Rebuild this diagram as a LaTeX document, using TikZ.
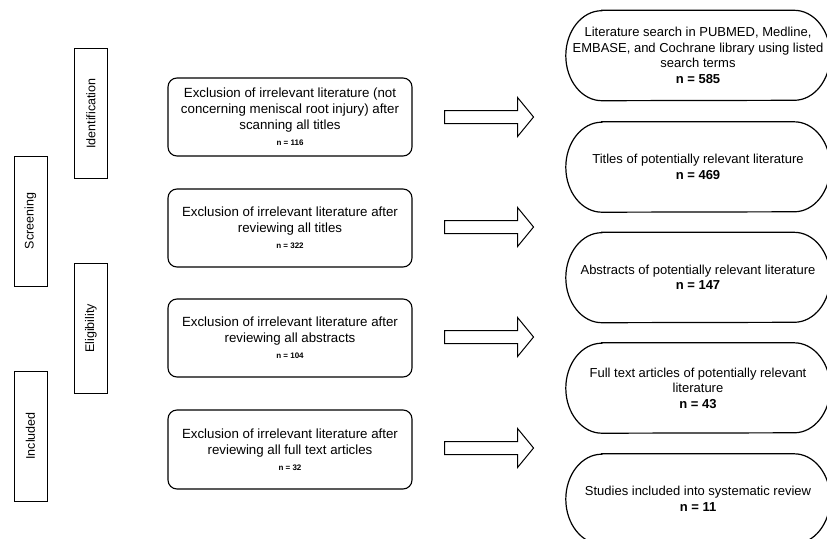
\documentclass[tikz,border=0pt]{standalone}
\usepackage{fontspec}
\setmainfont{Liberation Sans}
\begin{document}
\begin{tikzpicture}[x=1pt,y=-1pt,
  lbl/.style={draw, line width=0.9pt, rotate=90, minimum width=130pt, minimum height=33pt, inner sep=0pt, font=\fontsize{12.5}{14}\selectfont},
  excl/.style={draw, line width=1.1pt, rounded corners=9pt, minimum width=244pt, minimum height=78pt, align=center, inner sep=0pt, font=\fontsize{13.3}{16}\selectfont},
  stad/.style={minimum width=264pt, minimum height=90pt, align=center, inner sep=0pt, font=\fontsize{13}{15.5}\selectfont},
  blk/.style={draw, line width=1pt, fill=white, line join=miter},
  stadline/.style={line width=1.2pt}
]
\useasboundingbox (0,0) rectangle (827,538);
\clip (0,0) rectangle (827,538);

% side labels
\node[lbl] (scr) at (30.5,221) {Screening};
\node[lbl] (inc) at (30.5,436) {Included};
\node[lbl] (idf) at (91,113.5) {Identification};
\node[lbl] (eli) at (91,328.5) {Eligibility};

% exclusion boxes
\node[excl] (x1) at (290,117) {Exclusion of irrelevant literature (not\\concerning meniscal root injury) after\\scanning all titles\\{\fontsize{8}{10}\selectfont\bfseries n = 116}};
\node[excl] (x2) at (290,228) {Exclusion of irrelevant literature after\\reviewing all titles\\{\fontsize{8}{10}\selectfont\bfseries n = 322}};
\node[excl] (x3) at (290,338) {Exclusion of irrelevant literature after\\reviewing all abstracts\\{\fontsize{8}{10}\selectfont\bfseries n = 104}};
\node[excl, minimum height=79pt] (x4) at (290,449.5) {Exclusion of irrelevant literature after\\reviewing all full text articles\\{\fontsize{8}{10}\selectfont\bfseries n = 32}};

% stadiums
\node[stad] (s1) at (698,55.5) {Literature search in PUBMED, Medline,\\EMBASE, and Cochrane library using listed\\search terms\\\textbf{n = 585}};
\node[stad] (s2) at (698,167) {Titles of potentially relevant literature\\\textbf{n = 469}};
\node[stad] (s3) at (698,277.5) {Abstracts of potentially relevant literature\\\textbf{n = 147}};
\node[stad] (s4) at (698,388) {Full text articles of potentially relevant\\literature\\\textbf{n = 43}};
\node[stad] (s5) at (698,499) {Studies included into systematic review\\\textbf{n = 11}};

\foreach \s in {s1,s2,s3,s4,s5}{
  \draw[stadline] ([xshift=36pt]\s.north west) -- ([xshift=-36pt]\s.north east)
    arc[start angle=90, end angle=-90, x radius=36pt, y radius=45pt]
    -- ([xshift=36pt]\s.south west)
    arc[start angle=270, end angle=90, x radius=36pt, y radius=45pt] -- cycle;
}

% block arrows
\coordinate (a1) at ([xshift=32pt]x1.east);
\coordinate (a2) at ([xshift=32pt,yshift=1pt]x2.east);
\coordinate (a3) at ([xshift=32pt,yshift=1pt]x3.east);
\coordinate (a4) at ([xshift=32pt,yshift=1.5pt]x4.east);
\foreach \a in {a1,a2,a3,a4}{
  \draw[blk] (\a) ++(0,-6.5) -- ++(73,0) -- ++(0,-13) -- ++(16,19.5) -- ++(-16,19.5) -- ++(0,-13) -- ++(-73,0) -- cycle;
}
\end{tikzpicture}
\end{document}
